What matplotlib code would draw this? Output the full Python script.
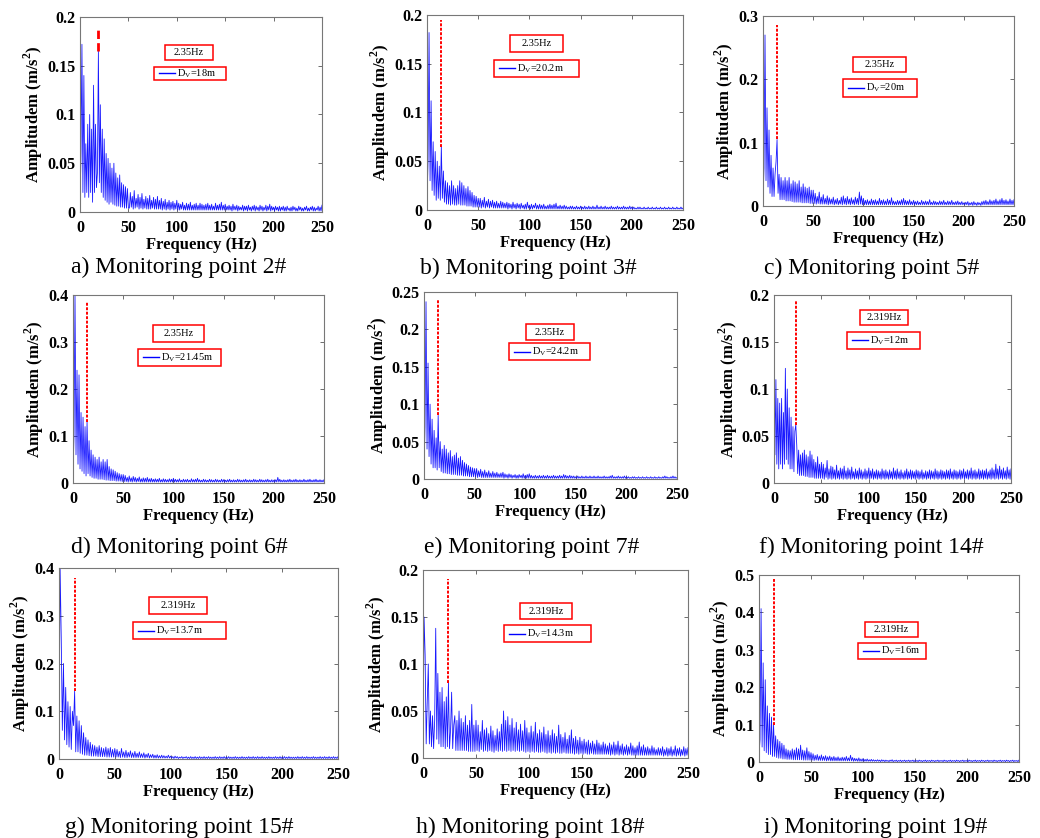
import numpy as np
import matplotlib
matplotlib.use('Agg')
from matplotlib import pyplot as plt
from matplotlib.patches import Rectangle
from matplotlib.lines import Line2D

plt.rcParams['font.family'] = 'Liberation Serif'
plt.rcParams['font.weight'] = 'bold'

W, H = 1040, 838  # figure size in px (dpi 100)

# frequency grid, 1 Hz bins
freq = np.arange(0, 251, 1.0)

# FFT amplitudes in mm/s^2 (divided by 1000 when plotted), 0..250 Hz
amp_p2 = [5, 60, 172, 20, 140, 15, 70, 20, 90, 15,
          100, 20, 85, 10, 130, 20, 90, 25, 40, 165, 30,
          110, 20, 85, 15, 75, 12, 60, 10, 55, 8,
          50, 10, 45, 8, 50, 7, 40, 6, 35, 6,
          38, 5, 30, 5, 28, 4, 26, 4, 24, 4,
          4, 20, 5, 16, 3, 22, 4, 14, 5, 18,
          3, 15, 4, 19, 3, 13, 4, 16, 3, 14,
          3, 17, 3, 12, 4, 15, 3, 13, 3, 16,
          3, 12, 3, 14, 2, 11, 3, 13, 2, 10,
          3, 12, 2, 10, 3, 11, 2, 9, 3, 12,
          2, 9, 2, 8, 3, 10, 2, 7, 2, 9,
          2, 8, 2, 10, 2, 7, 2, 8, 2, 9,
          2, 7, 2, 9, 2, 8, 2, 7, 2, 8,
          2, 9, 2, 7, 2, 8, 2, 6, 2, 9,
          2, 7, 2, 8, 2, 10, 2, 7, 2, 8,
          2, 6, 2, 7, 2, 6, 1, 8, 2, 6,
          2, 7, 1, 6, 2, 5, 2, 7, 1, 6,
          2, 6, 1, 7, 2, 5, 1, 6, 2, 7,
          1, 6, 2, 5, 1, 7, 2, 6, 1, 5,
          2, 7, 1, 6, 2, 8, 1, 6, 2, 5,
          1, 6, 2, 5, 1, 6, 1, 5, 2, 6,
          1, 5, 1, 6, 2, 4, 1, 5, 1, 6,
          2, 5, 1, 4, 1, 6, 2, 5, 1, 4,
          1, 5, 2, 6, 1, 4, 1, 5, 2, 6,
          1, 5, 1, 4, 2, 6, 1, 5, 1, 7]
amp_p3 = [10, 50, 182, 30, 112, 20, 70, 15, 60, 10,
          50, 12, 45, 10, 65, 12, 40, 8, 30, 6,
          28, 6, 25, 5, 30, 6, 25, 5, 22, 5,
          25, 6, 30, 5, 28, 5, 25, 5, 22, 4,
          24, 4, 20, 4, 18, 3, 15, 3, 14, 3, 12,
          3, 12, 2, 10, 3, 13, 2, 9, 3, 11,
          2, 9, 3, 10, 2, 8, 2, 9, 2, 7,
          2, 9, 2, 8, 2, 7, 2, 8, 1, 7,
          2, 6, 1, 8, 2, 6, 1, 7, 2, 6,
          1, 7, 2, 5, 1, 6, 1, 8, 2, 5,
          1, 6, 1, 5, 2, 7, 1, 5, 1, 6,
          1, 5, 1, 6, 1, 4, 1, 5, 1, 6,
          1, 5, 1, 6, 1, 7, 1, 4, 1, 5,
          1, 4, 1, 5, 1, 4, 1, 3, 1, 4,
          1, 4, 1, 3, 1, 4, 1, 3, 1, 4,
          1, 3, 1, 4, 1, 3, 1, 4, 1, 3,
          1, 4, 1, 3, 1, 5, 1, 3, 1, 4,
          1, 3, 1, 4, 1, 3, 1, 3, 1, 4,
          1, 3, 1, 3, 1, 4, 1, 3, 1, 3,
          1, 4, 1, 3, 1, 3, 1, 4, 1, 3,
          1, 3, 1, 2, 1, 3, 1, 3, 1, 2,
          1, 3, 1, 2, 1, 3, 1, 2, 1, 3,
          1, 2, 1, 3, 1, 2, 1, 3, 1, 2,
          1, 3, 1, 2, 1, 3, 1, 2, 1, 3,
          1, 2, 1, 3, 1, 2, 1, 3, 1, 2]
amp_p5 = [10, 60, 270, 40, 155, 30, 120, 20, 80, 15,
          60, 15, 50, 70, 105, 20, 50, 10, 45, 10,
          40, 10, 45, 8, 40, 8, 45, 8, 35, 7,
          40, 6, 38, 6, 35, 6, 40, 6, 30, 5,
          35, 5, 30, 5, 28, 5, 30, 4, 25, 4, 25,
          4, 20, 3, 15, 4, 22, 3, 14, 3, 18,
          3, 12, 3, 16, 2, 13, 3, 11, 3, 14,
          2, 10, 3, 12, 2, 9, 3, 14, 2, 16,
          3, 12, 2, 15, 3, 11, 2, 13, 3, 10,
          2, 14, 3, 12, 2, 22, 3, 16, 2, 12,
          2, 9, 2, 10, 2, 8, 2, 11, 2, 9,
          2, 10, 2, 8, 2, 12, 2, 9, 2, 10,
          2, 8, 2, 11, 2, 9, 2, 13, 2, 8,
          2, 7, 2, 9, 2, 8, 2, 10, 2, 12,
          2, 9, 2, 8, 2, 10, 2, 7, 2, 9,
          2, 7, 2, 8, 2, 6, 2, 9, 2, 7,
          2, 8, 2, 7, 2, 10, 2, 6, 2, 8,
          2, 7, 2, 6, 2, 8, 2, 7, 2, 9,
          2, 6, 2, 8, 2, 7, 2, 9, 2, 6,
          2, 7, 2, 8, 2, 6, 2, 7, 2, 5,
          2, 6, 2, 7, 1, 5, 2, 6, 1, 7,
          2, 5, 1, 6, 2, 5, 1, 7, 2, 8,
          2, 9, 2, 7, 2, 10, 2, 8, 2, 9,
          2, 11, 2, 8, 2, 10, 2, 12, 2, 9,
          2, 10, 2, 8, 2, 11, 2, 9, 2, 10]
amp_p6 = [20, 100, 400, 60, 240, 40, 230, 30, 150, 25,
          140, 20, 120, 15, 130, 20, 90, 15, 70, 12,
          60, 10, 55, 10, 50, 8, 55, 8, 45, 8,
          50, 7, 45, 6, 50, 6, 35, 5, 30, 5,
          28, 5, 25, 4, 22, 4, 20, 4, 18, 3, 18,
          3, 16, 3, 12, 2, 15, 3, 11, 2, 14,
          3, 12, 2, 10, 3, 13, 2, 9, 2, 11,
          2, 10, 2, 12, 2, 9, 2, 10, 2, 8,
          2, 9, 2, 8, 2, 10, 2, 7, 2, 9,
          2, 8, 2, 7, 2, 9, 2, 8, 2, 10,
          2, 8, 2, 7, 2, 9, 2, 6, 2, 8,
          2, 7, 2, 8, 2, 6, 2, 9, 2, 7,
          2, 8, 2, 10, 2, 7, 2, 6, 2, 8,
          2, 7, 2, 6, 2, 8, 2, 7, 2, 6,
          2, 8, 2, 7, 2, 6, 2, 8, 2, 7,
          2, 6, 2, 7, 2, 8, 2, 6, 2, 7,
          2, 6, 2, 8, 2, 7, 2, 6, 2, 7,
          2, 8, 2, 6, 2, 7, 2, 6, 2, 8,
          2, 7, 2, 6, 2, 8, 2, 7, 2, 6,
          2, 7, 2, 8, 2, 6, 2, 7, 2, 6,
          2, 7, 2, 12, 2, 8, 2, 6, 2, 7,
          2, 6, 2, 7, 2, 8, 2, 6, 2, 7,
          2, 8, 2, 6, 2, 7, 2, 6, 2, 8,
          2, 6, 2, 7, 2, 8, 2, 6, 2, 7,
          2, 8, 2, 6, 2, 7, 2, 6, 2, 7]
amp_p7 = [10, 70, 237, 40, 155, 30, 100, 20, 80, 15,
          65, 15, 55, 12, 85, 15, 50, 10, 40, 8,
          45, 8, 40, 7, 35, 7, 38, 6, 30, 6,
          32, 6, 35, 5, 28, 5, 30, 5, 25, 4,
          22, 4, 20, 4, 18, 3, 16, 3, 15, 3, 14,
          3, 14, 2, 11, 3, 13, 2, 10, 2, 12,
          2, 9, 2, 11, 2, 8, 2, 10, 2, 8,
          2, 9, 2, 7, 2, 8, 2, 9, 1, 7,
          2, 6, 1, 7, 2, 6, 1, 5, 2, 6,
          1, 5, 1, 6, 2, 5, 1, 7, 1, 5,
          1, 6, 1, 7, 1, 5, 1, 4, 1, 5,
          1, 4, 1, 5, 1, 4, 1, 5, 1, 4,
          1, 5, 1, 4, 1, 4, 1, 5, 1, 4,
          1, 4, 1, 5, 1, 4, 1, 6, 1, 5,
          1, 4, 1, 5, 1, 4, 1, 4, 1, 3,
          1, 4, 1, 3, 1, 4, 1, 3, 1, 4,
          1, 3, 1, 4, 1, 3, 1, 4, 1, 3,
          1, 4, 1, 3, 1, 3, 1, 4, 1, 3,
          1, 3, 1, 4, 1, 5, 1, 3, 1, 3,
          1, 4, 1, 3, 1, 3, 1, 4, 1, 3,
          1, 3, 1, 2, 1, 3, 1, 3, 1, 2,
          1, 3, 1, 2, 1, 3, 1, 2, 1, 3,
          1, 2, 1, 3, 1, 2, 1, 3, 1, 2,
          1, 3, 1, 2, 1, 3, 1, 4, 1, 3,
          1, 2, 1, 3, 1, 4, 1, 3, 1, 2]
amp_p14 = [150, 30, 110, 20, 90, 15, 85, 20, 90, 15,
           75, 20, 122, 25, 100, 20, 80, 15, 70, 15,
           60, 12, 55, 62, 40, 10, 35, 8, 30, 8,
           32, 8, 35, 7, 30, 7, 28, 6, 34, 6,
           30, 6, 25, 5, 22, 5, 28, 5, 20, 5, 22,
           5, 20, 4, 16, 6, 24, 4, 15, 5, 18,
           4, 17, 5, 14, 4, 19, 5, 13, 4, 16,
           5, 15, 4, 18, 5, 13, 4, 16, 5, 14,
           4, 17, 5, 12, 4, 15, 5, 13, 4, 16,
           5, 14, 4, 12, 5, 15, 4, 13, 5, 16,
           4, 13, 5, 15, 4, 12, 5, 14, 4, 13,
           5, 12, 4, 15, 5, 13, 4, 14, 5, 12,
           4, 14, 5, 12, 4, 16, 5, 13, 4, 15,
           5, 12, 4, 14, 5, 11, 4, 13, 5, 15,
           4, 12, 5, 14, 4, 13, 5, 12, 4, 14,
           5, 13, 4, 12, 5, 14, 4, 11, 5, 13,
           4, 12, 5, 14, 4, 13, 5, 12, 4, 15,
           5, 13, 4, 12, 5, 14, 4, 13, 5, 12,
           4, 14, 5, 13, 4, 15, 5, 12, 4, 14,
           5, 13, 4, 12, 5, 14, 4, 13, 5, 15,
           4, 12, 5, 14, 4, 13, 5, 16, 4, 13,
           5, 14, 4, 12, 5, 15, 4, 13, 5, 14,
           4, 13, 5, 15, 4, 12, 5, 14, 4, 16,
           5, 14, 4, 20, 5, 15, 4, 18, 5, 14,
           4, 16, 5, 13, 4, 17, 5, 14, 4, 15]
amp_p15 = [30, 400, 255, 60, 200, 40, 150, 30, 120, 25,
           110, 20, 100, 70, 142, 15, 90, 15, 80, 12,
           70, 10, 55, 8, 45, 8, 40, 7, 35, 6,
           30, 6, 28, 6, 25, 5, 28, 5, 24, 5,
           22, 5, 25, 4, 22, 4, 24, 4, 20, 4, 22,
           4, 20, 4, 16, 3, 22, 4, 15, 3, 18,
           3, 14, 4, 17, 3, 13, 3, 16, 3, 12,
           3, 15, 3, 11, 3, 13, 2, 10, 3, 12,
           2, 9, 3, 10, 2, 8, 2, 9, 2, 7,
           2, 8, 2, 7, 2, 6, 2, 8, 2, 6,
           2, 5, 1, 6, 2, 5, 1, 4, 2, 5,
           1, 4, 2, 5, 1, 4, 1, 5, 1, 4,
           1, 5, 1, 4, 1, 5, 1, 4, 1, 5,
           1, 4, 1, 5, 1, 4, 1, 4, 1, 5,
           1, 4, 1, 5, 1, 4, 1, 5, 1, 4,
           1, 5, 1, 4, 1, 4, 1, 5, 1, 4,
           1, 4, 1, 5, 1, 4, 1, 4, 1, 5,
           1, 4, 1, 5, 1, 4, 1, 5, 1, 4,
           1, 5, 1, 4, 1, 4, 1, 5, 1, 4,
           1, 4, 1, 5, 1, 4, 1, 5, 1, 4,
           1, 5, 1, 4, 1, 5, 1, 4, 1, 4,
           1, 4, 1, 5, 1, 4, 1, 5, 1, 4,
           1, 5, 1, 4, 1, 4, 1, 5, 1, 4,
           1, 4, 1, 5, 1, 4, 1, 5, 1, 4,
           1, 5, 1, 4, 1, 5, 1, 4, 1, 5]
amp_p18 = [10, 150, 110, 15, 60, 100, 15, 50, 12, 45,
           10, 40, 138, 20, 90, 15, 70, 12, 75, 12,
           60, 10, 65, 12, 80, 10, 30, 70, 10, 35,
           45, 8, 40, 8, 50, 8, 42, 8, 38, 8,
           45, 8, 35, 7, 40, 7, 57, 7, 35, 7, 40,
           8, 35, 7, 28, 9, 40, 7, 30, 8, 32,
           7, 26, 8, 34, 7, 29, 6, 24, 8, 31,
           7, 28, 8, 36, 7, 50, 8, 40, 7, 44,
           8, 35, 7, 42, 8, 32, 7, 38, 8, 30,
           7, 36, 8, 29, 7, 40, 6, 32, 7, 27,
           6, 34, 7, 28, 6, 38, 7, 26, 6, 30,
           6, 27, 7, 33, 6, 25, 5, 29, 6, 24,
           5, 30, 6, 26, 5, 23, 6, 35, 5, 25,
           5, 22, 6, 27, 5, 20, 5, 24, 5, 30,
           5, 21, 4, 23, 5, 19, 4, 22, 5, 18,
           4, 20, 5, 17, 4, 19, 4, 16, 5, 18,
           4, 15, 4, 19, 4, 16, 4, 14, 4, 17,
           4, 15, 4, 13, 4, 16, 3, 14, 4, 17,
           3, 14, 4, 18, 3, 13, 4, 15, 3, 12,
           4, 14, 3, 12, 4, 16, 3, 13, 3, 11,
           3, 13, 3, 17, 3, 12, 3, 14, 3, 11,
           3, 12, 3, 10, 3, 13, 3, 11, 3, 9,
           3, 11, 3, 10, 3, 12, 2, 9, 3, 11,
           2, 10, 3, 12, 2, 9, 3, 13, 2, 10,
           3, 11, 2, 9, 3, 12, 2, 10, 3, 11]
amp_p19 = [20, 60, 410, 40, 265, 30, 220, 25, 150, 20,
           130, 20, 120, 15, 100, 15, 70, 12, 60, 10,
           55, 10, 50, 8, 45, 8, 35, 7, 32, 7,
           30, 7, 35, 6, 32, 6, 38, 6, 35, 6,
           45, 6, 32, 5, 30, 5, 38, 5, 28, 5, 25,
           5, 22, 4, 18, 5, 20, 4, 16, 4, 19,
           4, 15, 4, 17, 3, 14, 4, 16, 3, 13,
           3, 15, 3, 12, 3, 14, 3, 11, 3, 13,
           3, 12, 3, 15, 3, 11, 3, 18, 3, 12,
           2, 10, 3, 9, 2, 11, 2, 8, 2, 9,
           2, 7, 2, 8, 2, 6, 2, 7, 2, 6,
           2, 5, 2, 6, 2, 5, 1, 6, 2, 5,
           1, 5, 2, 4, 1, 5, 2, 6, 1, 4,
           2, 5, 1, 4, 2, 5, 1, 4, 2, 5,
           1, 4, 2, 5, 1, 4, 2, 5, 1, 4,
           2, 4, 1, 5, 2, 4, 1, 4, 2, 5,
           1, 4, 2, 4, 1, 5, 2, 4, 1, 4,
           2, 5, 1, 4, 2, 4, 1, 5, 2, 4,
           1, 4, 2, 5, 1, 4, 2, 4, 1, 5,
           2, 4, 1, 4, 2, 5, 1, 4, 2, 4,
           1, 5, 2, 4, 1, 4, 2, 5, 1, 4,
           2, 4, 1, 5, 2, 4, 1, 4, 2, 5,
           1, 4, 2, 4, 1, 5, 2, 4, 1, 4,
           2, 5, 1, 4, 2, 4, 1, 5, 2, 4,
           1, 4, 2, 5, 1, 4, 2, 4, 1, 5]

captions = ['a) Monitoring point 2#', 'b) Monitoring point 3#', 'c) Monitoring point 5#',
            'd) Monitoring point 6#', 'e) Monitoring point 7#', 'f) Monitoring point 14#',
            'g) Monitoring point 15#', 'h) Monitoring point 18#', 'i) Monitoring point 19#']
freq_labels = ['2.35Hz'] * 5 + ['2.319Hz'] * 4
dv_labels = ['18m', '20.2m', '20m', '21.45m', '24.2m', '12m', '13.7m', '14.3m', '16m']
y_max = [0.2, 0.2, 0.3, 0.4, 0.25, 0.2, 0.4, 0.2, 0.5]
y_step = [0.05, 0.05, 0.1, 0.1, 0.05, 0.05, 0.1, 0.05, 0.1]
# red marker line: frequency, lower and upper amplitude
mark_f = [19, 14, 14, 14, 14, 23, 14, 24, 14]
mark_lo = [0.165, 0.065, 0.105, 0.13, 0.085, 0.062, 0.142, 0.08, 0.1]
mark_hi = [0.19, 0.195, 0.285, 0.385, 0.24, 0.195, 0.38, 0.19, 0.49]

amps = [amp_p2, amp_p3, amp_p5, amp_p6, amp_p7, amp_p14, amp_p15, amp_p18, amp_p19]

# layout in px: axes (left, top, right, bottom), caption centre, freq box, legend box
ax_px = [(80, 17, 322, 212), (427, 15, 683, 210), (763, 16, 1014, 206),
         (73, 295, 324, 483), (424, 292, 677, 479), (774, 295, 1011, 483),
         (59, 568, 338, 759), (423, 570, 688, 758), (759, 575, 1019, 762)]
cap_px = [(179, 267), (528, 268), (872, 268),
          (179, 547), (532, 547), (871, 547),
          (179, 827), (530, 827), (876, 827)]
fbox_px = [(165, 45, 213, 60), (510, 35, 563, 52), (853, 57, 906, 72),
           (153, 325, 204, 342), (526, 324, 574, 340), (860, 310, 908, 325),
           (149, 597, 207, 614), (520, 603, 572, 619), (865, 622, 918, 637)]
lbox_px = [(154, 67, 226, 80), (494, 60, 579, 77), (843, 79, 917, 97),
           (138, 349, 221, 366), (509, 343, 590, 360), (847, 332, 920, 349),
           (133, 622, 226, 639), (504, 625, 591, 642), (858, 643, 926, 659)]


def fx(x):
    return x / W


def fy(y):
    return 1 - y / H


fig = plt.figure(figsize=(W / 100, H / 100), dpi=100)

for i in range(9):
    l, t, r, b = ax_px[i]
    ax = fig.add_axes([fx(l), fy(b), (r - l) / W, (b - t) / H])
    amp = np.array(amps[i]) / 1000.0
    assert len(amp) == len(freq)
    ax.plot(freq, amp, color='#0000ff', lw=0.6, alpha=0.9)

    # red marker
    ls = (0, (3, 1.5)) if i == 0 else (0, (1.5, 0.8))
    ax.plot([mark_f[i], mark_f[i]], [mark_lo[i], mark_hi[i]], color='red',
            lw=2.0 if i == 0 else 1.4, linestyle=ls)

    ax.set_xlim(0, 250)
    ax.set_ylim(0, y_max[i])
    ax.set_xticks([0, 50, 100, 150, 200, 250])
    yt = np.arange(0, y_max[i] + 1e-9, y_step[i])
    ax.set_yticks(yt)
    ax.set_yticklabels(['%g' % round(v, 2) for v in yt])
    ax.tick_params(direction='in', top=True, right=True, length=3, width=0.6,
                   labelsize=11.5, color='#555555')
    ax.tick_params(axis='x', pad=5.5)
    ax.tick_params(axis='y', pad=3)
    for s in ax.spines.values():
        s.set_color('#777777')
        s.set_linewidth(0.8)
    ax.set_xlabel('Frequency (Hz)', fontsize=12, fontweight='bold', labelpad=1)
    ax.set_ylabel(r'Amplitudem (m/s$^\mathregular{2}$)', fontsize=12,
                  fontweight='bold', labelpad=1.5)

    # caption under each panel
    fig.text(fx(cap_px[i][0]), fy(cap_px[i][1]), captions[i], ha='center', va='center',
             fontsize=17, fontweight='normal')

    # frequency box
    bl, bt, br, bb = fbox_px[i]
    fig.patches.append(Rectangle((fx(bl), fy(bb)), (br - bl) / W, (bb - bt) / H,
                                 transform=fig.transFigure, fill=True, fc='white',
                                 ec='red', lw=1.1))
    fig.text(fx((bl + br) / 2), fy((bt + bb) / 2), freq_labels[i], ha='center',
             va='center', fontsize=7.5, fontweight='normal')

    # legend box
    ll, lt, lr, lb = lbox_px[i]
    fig.patches.append(Rectangle((fx(ll), fy(lb)), (lr - ll) / W, (lb - lt) / H,
                                 transform=fig.transFigure, fill=True, fc='white',
                                 ec='red', lw=1.1))
    ym = (lt + lb) / 2
    fig.lines.append(Line2D([fx(ll + 5), fx(ll + 21)], [fy(ym), fy(ym)],
                            transform=fig.transFigure, color='#0000ff', lw=1.0))
    fig.text(fx(ll + 23), fy(ym), r'D$_\mathregular{V}$=' + dv_labels[i], ha='left',
             va='center', fontsize=7.5, fontweight='normal')

fig.savefig('out.png', dpi=100)
